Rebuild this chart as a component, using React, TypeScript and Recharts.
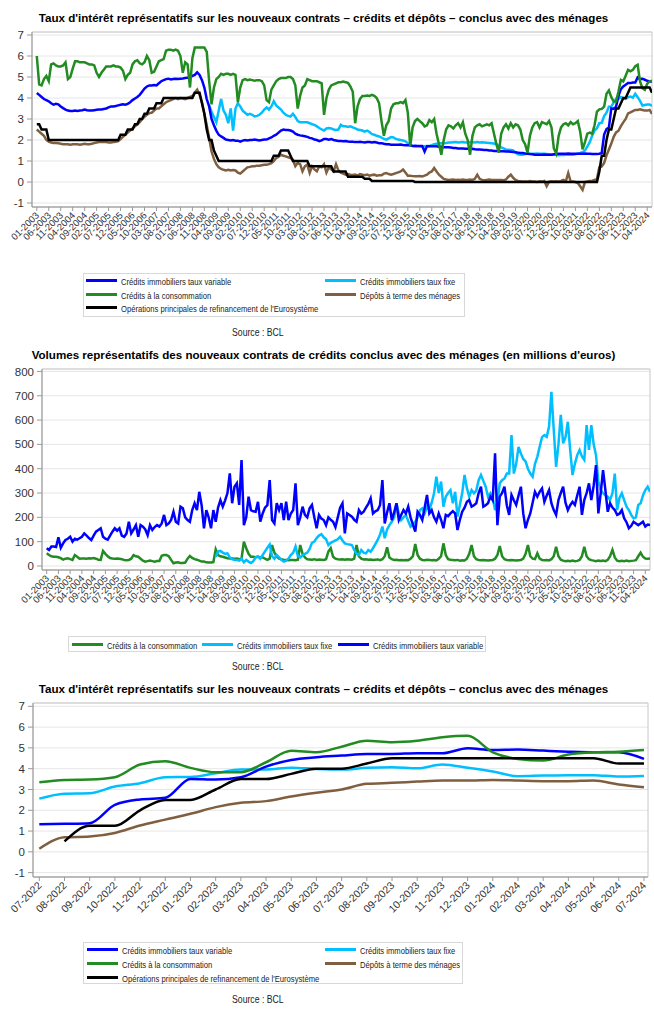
import React from "react";
import { LineChart, Line, XAxis, YAxis, CartesianGrid, ReferenceArea } from "recharts";

const FONT = "'Liberation Sans', Arial, sans-serif";

const BLUE = "#0000ff";
const CYAN = "#00bfff";
const GREEN = "#228b22";
const BROWN = "#7f5f3f";
const BLACK = "#000000";

// monthly, 01-2003 .. 06-2024
const longTickLabels = [
  "01-2003", "06-2003", "11-2003", "04-2004", "09-2004", "02-2005", "07-2005", "12-2005", "05-2006", "10-2006",
  "03-2007", "08-2007", "01-2008", "06-2008", "11-2008", "04-2009", "09-2009", "02-2010", "07-2010", "12-2010",
  "05-2011", "10-2011", "03-2012", "08-2012", "01-2013", "06-2013", "11-2013", "04-2014", "09-2014", "02-2015",
  "07-2015", "12-2015", "05-2016", "10-2016", "03-2017", "08-2017", "01-2018", "06-2018", "11-2018", "04-2019",
  "09-2019", "02-2020", "07-2020", "12-2020", "05-2021", "10-2021", "03-2022", "08-2022", "01-2023", "06-2023",
  "11-2023", "04-2024",
];

const rateVariable = [
  4.24, 4.15, 4.05, 3.95, 3.9, 3.84, 3.75, 3.68, 3.72, 3.7, 3.6, 3.52,
  3.45, 3.4, 3.38, 3.38, 3.4, 3.38, 3.4, 3.42, 3.45, 3.42, 3.4, 3.4,
  3.42, 3.44, 3.45, 3.45, 3.48, 3.5, 3.55, 3.6, 3.6, 3.62, 3.65, 3.68,
  3.7, 3.68, 3.72, 3.8, 3.9, 3.98, 4.05, 4.15, 4.3, 4.45, 4.55, 4.6,
  4.6, 4.62, 4.6, 4.7, 4.8, 4.85, 4.9, 4.92, 4.88, 4.9, 4.92, 4.9,
  4.92, 4.93, 4.95, 4.97, 4.98, 5.05, 5.1, 5.22, 5.1, 4.85, 4.5, 3.95,
  3.6, 3.0, 2.7, 2.45, 2.25, 2.17, 2.1, 2.02, 2.0, 1.98, 2.0, 1.97,
  1.97, 1.92, 1.97, 2.0, 1.98, 2.0, 2.0, 2.02, 2.0, 1.98, 2.0, 2.02,
  2.02, 2.08, 2.12, 2.2, 2.25, 2.35, 2.45, 2.5, 2.48, 2.48, 2.45, 2.4,
  2.3, 2.25, 2.22, 2.2, 2.18, 2.15, 2.1, 2.08, 2.02, 2.0, 1.95, 1.98,
  2.05, 2.05, 2.02, 2.05, 2.0, 1.98, 1.95, 1.95, 1.94, 1.95, 1.93, 1.92,
  1.92, 1.9, 1.9, 1.92, 1.9, 1.88, 1.9, 1.9, 1.88, 1.9, 1.88, 1.85,
  1.85, 1.82, 1.8, 1.8, 1.78, 1.78, 1.78, 1.77, 1.78, 1.76, 1.75, 1.75,
  1.75, 1.72, 1.73, 1.72, 1.72, 1.72, 1.45, 1.7, 1.7, 1.7, 1.7, 1.7,
  1.68, 1.68, 1.66, 1.65, 1.65, 1.64, 1.62, 1.62, 1.6, 1.6, 1.6, 1.58,
  1.58, 1.57, 1.58, 1.56, 1.55, 1.55, 1.54, 1.52, 1.52, 1.5, 1.5, 1.48,
  1.48, 1.47, 1.46, 1.46, 1.45, 1.45, 1.44, 1.43, 1.42, 1.4, 1.38, 1.38,
  1.36, 1.35, 1.33, 1.32, 1.3, 1.3, 1.3, 1.3, 1.31, 1.3, 1.3, 1.3,
  1.32, 1.33, 1.35, 1.35, 1.34, 1.35, 1.36, 1.35, 1.34, 1.35, 1.35, 1.34,
  1.35, 1.36, 1.35, 1.35, 1.33, 1.33, 1.33, 1.35, 1.38, 2.26, 2.52, 2.6,
  3.51, 3.48, 3.59, 4.1, 4.42, 4.55, 4.63, 4.71, 4.71, 4.74, 4.74, 4.98,
  4.9, 4.92, 4.87, 4.82, 4.79, 4.79,
];

const rateFixed = [
  null, null, null, null, null, null, null, null, null, null, null, null,
  null, null, null, null, null, null, null, null, null, null, null, null,
  null, null, null, null, null, null, null, null, null, null, null, null,
  null, null, null, null, null, null, null, null, null, null, null, null,
  null, null, null, null, null, null, null, null, null, null, null, null,
  null, null, null, null, null, null, null, null, null, null, null, null,
  3.65, 3.35, 3.1, 2.85, 3.4, 3.95, 3.4, 3.2, 2.8, 3.5, 2.45, 3.5,
  3.75, 3.6, 3.4, 3.3, 3.2, 3.25, 3.2, 3.12, 3.15, 3.2, 3.3, 3.45,
  3.55, 3.45, 3.6, 3.85, 3.65, 3.55, 3.45, 3.3, 3.2, 3.15, 3.12, 3.25,
  3.1, 2.9, 2.85, 2.84, 2.84, 2.84, 2.8, 2.75, 2.72, 2.65, 2.57, 2.5,
  2.45, 2.55, 2.57, 2.55, 2.5, 2.48, 2.5, 2.72, 2.65, 2.65, 2.62, 2.65,
  2.6, 2.55, 2.5, 2.48, 2.45, 2.4, 2.45, 2.38, 2.28, 2.25, 2.2, 2.17,
  2.12, 2.05, 2.02, 2.08, 2.14, 2.12, 2.05, 2.02, 2.0, 1.98, 1.94, 1.85,
  1.75, 1.72, 1.7, 1.7, 1.7, 1.68, 1.7, 1.72, 1.72, 1.75, 1.8, 1.82,
  1.83, 1.84, 1.85, 1.86, 1.88, 1.88, 1.89, 1.9, 1.88, 1.89, 1.9, 1.88,
  1.88, 1.9, 1.89, 1.88, 1.9, 1.88, 1.89, 1.88, 1.87, 1.86, 1.85, 1.83,
  1.8, 1.7, 1.65, 1.6, 1.55, 1.54, 1.52, 1.5, 1.4, 1.32, 1.3, 1.3,
  1.33, 1.35, 1.35, 1.34, 1.35, 1.36, 1.35, 1.35, 1.34, 1.33, 1.32, 1.3,
  1.3, 1.3, 1.28, 1.3, 1.29, 1.3, 1.3, 1.31, 1.3, 1.32, 1.35, 1.38,
  1.42, 1.5, 1.7, 1.9, 2.2, 2.45, 2.56, 2.8, 2.82, 3.14, 3.3, 3.59,
  3.6, 3.78, 3.96, 3.96, 4.05, 3.99, 3.96, 4.04, 4.07, 4.02, 4.2, 4.04,
  3.86, 3.64, 3.67, 3.69, 3.69, 3.62,
];

const rateConso = [
  6.0, 4.65, 4.6, 4.9, 5.05, 4.8, 5.6, 5.65, 5.55, 5.5, 5.5, 5.55,
  5.7, 4.9, 5.0, 5.4, 5.75, 5.75, 5.7, 5.7, 5.7, 5.65, 5.6, 5.6,
  5.55, 5.2, 5.0, 5.2, 5.35, 5.5, 5.5, 5.5, 5.55, 5.5, 5.5, 5.45,
  5.3, 4.9, 5.1, 5.2, 5.6, 5.75, 5.8, 5.65, 5.6, 5.7, 6.0, 5.8,
  5.2, 5.25, 5.5, 5.75, 5.8, 5.85, 6.25, 6.3, 6.3, 6.25, 6.3, 6.25,
  6.0, 5.2, 5.7, 5.6, 4.5, 5.9, 6.4, 6.4, 6.4, 6.4, 6.4, 6.2,
  4.8, 3.7, 4.5, 4.9, 5.0, 5.15, 5.1, 5.15, 5.15, 5.1, 5.15, 5.1,
  3.8, 4.5, 4.85, 4.9, 4.85, 4.88, 4.85, 4.82, 4.85, 4.85, 4.8, 4.6,
  3.9, 3.8, 4.4, 4.6, 4.8, 4.9, 4.95, 4.95, 4.95, 5.0, 5.0, 4.9,
  4.6, 3.5, 4.1, 4.5, 4.6, 4.9, 4.85, 4.8, 4.8, 4.8, 4.75, 4.7,
  3.2, 4.0, 4.4, 4.6, 4.65, 4.7, 4.75, 4.75, 4.78, 4.75, 4.72, 4.55,
  4.3, 2.8, 3.6, 3.95, 4.1, 4.1, 4.12, 4.1, 4.15, 4.1, 4.0, 3.75,
  2.9, 2.2, 2.7, 2.9, 3.5, 3.7, 3.75, 3.75, 3.8, 3.75, 3.9, 3.3,
  1.7, 2.6, 2.9, 3.0, 2.9, 2.8, 2.65, 2.7, 2.95, 2.85, 3.0, 2.3,
  1.8, 1.3, 2.0, 2.5, 2.7, 2.65, 2.55, 2.7, 2.8, 2.6, 2.85, 2.3,
  2.0, 1.3, 2.2, 2.6, 2.7, 2.75, 2.65, 2.7, 2.75, 2.7, 2.8, 2.3,
  1.8, 1.4, 2.3, 2.6, 2.75, 2.55, 2.8, 2.6, 2.75, 2.7, 2.5, 2.0,
  1.8, 1.4, 2.2, 2.6, 2.8, 2.85, 2.6, 2.85, 2.8, 2.75, 2.9, 2.6,
  1.6, 1.35, 2.2, 2.6, 2.75, 2.8, 2.7, 2.85, 2.75, 2.8, 2.9, 2.4,
  1.55, 1.9, 2.3, 2.35, 2.3, 2.7, 3.35, 3.46, 3.48, 3.59, 4.2, 4.36,
  4.04, 3.83, 3.83, 4.31, 4.86, 4.79, 5.06, 5.34, 5.27, 5.34, 5.51, 5.58,
  4.79, 4.47, 4.39, 4.68, 4.79, 4.82,
];

const rateDepots = [
  2.5, 2.4, 2.3, 2.2, 2.0, 1.92, 1.88, 1.86, 1.86, 1.85, 1.82, 1.8,
  1.8, 1.8, 1.78, 1.8, 1.8, 1.8, 1.78, 1.8, 1.82, 1.8, 1.8, 1.82,
  1.85, 1.88, 1.9, 1.9, 1.9, 1.9, 1.88, 1.88, 1.9, 1.92, 1.95, 2.05,
  2.15, 2.25, 2.35, 2.45, 2.55, 2.65, 2.75, 2.85, 3.0, 3.1, 3.2, 3.28,
  3.3, 3.4, 3.5, 3.5, 3.6, 3.7, 3.8, 3.85, 3.9, 3.95, 4.0, 3.95,
  4.0, 3.98, 3.95, 4.0, 4.05, 4.1, 4.25, 4.4, 4.15, 3.8, 3.25, 2.7,
  2.1, 1.45, 1.1, 0.85, 0.7, 0.62, 0.58, 0.55, 0.58, 0.55, 0.57, 0.55,
  0.45, 0.4, 0.5, 0.6, 0.7, 0.72, 0.75, 0.75, 0.78, 0.78, 0.8, 0.82,
  0.82, 0.85, 0.9, 1.0, 1.14, 1.2, 1.3, 1.25, 1.22, 1.18, 1.14, 1.06,
  0.75, 0.9, 0.85, 0.51, 0.75, 0.83, 0.43, 0.75, 0.6, 0.51, 0.75, 0.7,
  0.85, 0.45, 0.7, 0.6, 0.5, 0.85, 0.55, 0.45, 0.4, 0.35, 0.38, 0.35,
  0.33, 0.35, 0.3, 0.38, 0.35, 0.32, 0.35, 0.3, 0.33, 0.35, 0.3, 0.32,
  0.32, 0.4, 0.43, 0.38, 0.35, 0.38, 0.42, 0.46, 0.5, 0.59, 0.45, 0.3,
  0.3, 0.28, 0.27, 0.27, 0.28, 0.26, 0.3, 0.35, 0.45, 0.5, 0.67, 0.5,
  0.35, 0.25, 0.15, 0.12, 0.1, 0.11, 0.12, 0.1, 0.11, 0.1, 0.12, 0.1,
  0.1, 0.12, 0.1, 0.15, 0.35, 0.15, 0.1, 0.08, 0.1, 0.12, 0.1, 0.09,
  0.1, 0.09, 0.1, 0.08, 0.12, 0.25, 0.35, 0.2, 0.1, 0.05, 0.04, 0.03,
  0.03, 0.02, 0.05, 0.03, 0.02, 0.0, 0.03, 0.02, 0.05, -0.2, 0.02, 0.03,
  0.02, 0.03, 0.02, 0.05, 0.1, 0.03, 0.43, 0.03, 0.02, 0.0, -0.05, -0.2,
  -0.37, 0.0, 0.03, 0.05, 0.05, 0.1, 0.15, 0.7, 0.74, 0.91, 1.27, 1.55,
  1.83, 2.15, 2.36, 2.44, 2.66, 2.84, 3.0, 3.27, 3.32, 3.38, 3.43, 3.43,
  3.46, 3.43, 3.4, 3.4, 3.43, 3.24,
];

const rateBCE = [
  2.75, 2.75, 2.5, 2.5, 2.5, 2.0, 2.0, 2.0, 2.0, 2.0, 2.0, 2.0,
  2.0, 2.0, 2.0, 2.0, 2.0, 2.0, 2.0, 2.0, 2.0, 2.0, 2.0, 2.0,
  2.0, 2.0, 2.0, 2.0, 2.0, 2.0, 2.0, 2.0, 2.0, 2.0, 2.0, 2.25,
  2.25, 2.25, 2.5, 2.5, 2.5, 2.75, 2.75, 3.0, 3.0, 3.25, 3.25, 3.5,
  3.5, 3.5, 3.75, 3.75, 3.75, 4.0, 4.0, 4.0, 4.0, 4.0, 4.0, 4.0,
  4.0, 4.0, 4.0, 4.0, 4.0, 4.0, 4.25, 4.25, 4.25, 3.75, 3.25, 2.5,
  2.0, 2.0, 1.5, 1.25, 1.0, 1.0, 1.0, 1.0, 1.0, 1.0, 1.0, 1.0,
  1.0, 1.0, 1.0, 1.0, 1.0, 1.0, 1.0, 1.0, 1.0, 1.0, 1.0, 1.0,
  1.0, 1.0, 1.0, 1.25, 1.25, 1.25, 1.5, 1.5, 1.5, 1.5, 1.25, 1.0,
  1.0, 1.0, 1.0, 1.0, 1.0, 1.0, 0.75, 0.75, 0.75, 0.75, 0.75, 0.75,
  0.75, 0.75, 0.75, 0.75, 0.5, 0.5, 0.5, 0.5, 0.5, 0.5, 0.25, 0.25,
  0.25, 0.25, 0.25, 0.25, 0.25, 0.15, 0.15, 0.15, 0.05, 0.05, 0.05, 0.05,
  0.05, 0.05, 0.05, 0.05, 0.05, 0.05, 0.05, 0.05, 0.05, 0.05, 0.05, 0.05,
  0.05, 0.05, 0, 0, 0, 0, 0, 0, 0, 0, 0, 0,
  0, 0, 0, 0, 0, 0, 0, 0, 0, 0, 0, 0,
  0, 0, 0, 0, 0, 0, 0, 0, 0, 0, 0, 0,
  0, 0, 0, 0, 0, 0, 0, 0, 0, 0, 0, 0,
  0, 0, 0, 0, 0, 0, 0, 0, 0, 0, 0, 0,
  0, 0, 0, 0, 0, 0, 0, 0, 0, 0, 0, 0,
  0, 0, 0, 0, 0, 0, 0, 0.5, 1.25, 1.25, 2.0, 2.5,
  2.5, 3.0, 3.5, 3.5, 3.75, 4.0, 4.0, 4.25, 4.5, 4.5, 4.5, 4.5,
  4.5, 4.5, 4.5, 4.5, 4.5, 4.25,
];

// volumes in millions of euros, 01-2003 .. 06-2024
const volConso = [
  52, 45, 40, 38, 38, 36, 32, 26, 30, 32, 28, 25,
  45, 38, 30, 31, 31, 30, 32, 31, 33, 30, 26, 25,
  62, 50, 40, 33, 31, 30, 31, 30, 28, 25, 24, 25,
  30, 45, 40, 38, 30, 22, 18, 20, 22, 20, 18, 20,
  20, 42, 45, 45, 40, 25, 11, 14, 15, 12, 12, 14,
  30, 41, 33, 28, 26, 22, 18, 18, 15, 14, 14, 16,
  68, 45, 40, 38, 35, 32, 31, 31, 30, 31, 28, 30,
  100, 73, 50, 38, 38, 36, 38, 35, 36, 30, 25, 30,
  86, 55, 38, 30, 28, 25, 25, 24, 25, 25, 24, 26,
  86, 50, 35, 28, 27, 26, 28, 25, 27, 26, 25, 28,
  59, 73, 38, 30, 28, 27, 28, 26, 28, 27, 26, 30,
  86, 40, 30, 27, 28, 26, 27, 25, 26, 27, 24, 28,
  40, 77, 35, 28, 25, 26, 24, 25, 24, 25, 24, 30,
  40, 90, 45, 30, 25, 24, 26, 25, 24, 25, 23, 30,
  40, 93, 45, 28, 26, 25, 24, 25, 22, 24, 23, 30,
  50, 86, 40, 28, 25, 24, 25, 24, 23, 24, 25, 30,
  45, 82, 40, 28, 25, 24, 25, 24, 23, 24, 25, 30,
  50, 86, 40, 30, 28, 52, 30, 25, 24, 25, 23, 28,
  40, 79, 40, 26, 22, 20, 21, 20, 22, 20, 21, 25,
  40, 79, 40, 28, 24, 22, 20, 22, 21, 22, 20, 25,
  40, 66, 35, 22, 20, 21, 20, 22, 20, 21, 22, 24,
  40, 55, 38, 31, 30, 31,
];

const volFixe = [
  null, null, null, null, null, null, null, null, null, null, null, null,
  null, null, null, null, null, null, null, null, null, null, null, null,
  null, null, null, null, null, null, null, null, null, null, null, null,
  null, null, null, null, null, null, null, null, null, null, null, null,
  null, null, null, null, null, null, null, null, null, null, null, null,
  null, null, null, null, null, null, null, null, null, null, null, null,
  38, 60, 62, 55, 50, 52, 35, 28, 25, 25, 22, 30,
  15, 25, 18, 12, 20, 35, 40, 30, 45, 60, 75, 88,
  40, 30, 45, 35, 25, 18, 22, 30, 45, 55, 80, 40,
  35, 45, 50, 55, 70, 95, 100, 115, 125, 131, 118, 110,
  86, 95, 100, 105, 110, 120, 105, 93, 90, 88, 86, 66,
  50, 45, 66, 55, 52, 66, 59, 73, 90, 107, 130, 162,
  114, 150, 168, 182, 200, 258, 216, 189, 200, 210, 185, 162,
  170, 182, 200, 230, 237, 216, 244, 230, 260, 299, 367, 300,
  347, 244, 285, 300, 312, 258, 305, 203, 251, 300, 374, 320,
  285, 312, 299, 310, 353, 374, 350, 326, 285, 299, 280, 230,
  260, 340, 353, 360, 380, 380, 538, 380, 420, 490, 463, 440,
  430, 400, 380, 367, 420, 449, 490, 530, 538, 531, 573, 716,
  560, 408, 500, 621, 504, 530, 593, 477, 374, 420, 456, 477,
  450, 436, 579, 477, 579, 500, 456, 347, 312, 299, 290, 285,
  271, 300, 380, 230, 280, 299, 271, 244, 230, 210, 196, 200,
  251, 258, 290, 312, 326, 305,
];

const volVariable = [
  73, 66, 80, 80, 78, 118, 75, 93, 107, 112, 120, 100,
  112, 108, 114, 120, 134, 125, 115, 107, 125, 141, 148, 155,
  120, 112, 108, 125, 141, 155, 145, 155, 125, 120, 134, 182,
  134, 150, 168, 120, 168, 162, 150, 127, 168, 148, 160, 168,
  162, 175, 210, 168, 175, 189, 223, 182, 175, 244, 237, 200,
  189, 182, 230, 258, 230, 305, 250, 155, 230, 200, 155, 230,
  182, 240, 271, 244, 270, 300, 381, 258, 326, 340, 251, 436,
  168, 200, 285, 230, 225, 223, 264, 182, 216, 240, 250, 353,
  189, 175, 258, 230, 258, 189, 264, 189, 216, 230, 340, 168,
  200, 244, 210, 200, 237, 251, 200, 155, 210, 195, 189, 168,
  200, 190, 182, 160, 200, 240, 258, 134, 216, 210, 203, 190,
  182, 230, 215, 223, 240, 255, 278, 216, 225, 230, 250, 353,
  175, 220, 258, 189, 220, 258, 189, 210, 230, 216, 244, 200,
  170, 141, 223, 210, 189, 240, 292, 216, 230, 200, 182, 216,
  190, 155, 210, 205, 216, 225, 216, 148, 190, 223, 240, 264,
  271, 244, 250, 258, 300, 326, 244, 250, 258, 285, 270, 463,
  168, 285, 300, 326, 250, 210, 292, 270, 251, 290, 326, 216,
  155, 190, 216, 260, 305, 285, 305, 319, 264, 290, 312, 258,
  230, 210, 271, 300, 326, 260, 230, 250, 264, 251, 290, 326,
  210, 271, 300, 340, 271, 330, 415, 216, 300, 394, 312, 223,
  258, 240, 230, 210, 215, 230, 196, 180, 155, 165, 182, 175,
  168, 175, 182, 162, 170, 168,
];

// zoom 07-2022 .. 07-2024
const shortMonths = [
  "07-2022", "08-2022", "09-2022", "10-2022", "11-2022", "12-2022", "01-2023", "02-2023", "03-2023",
  "04-2023", "05-2023", "06-2023", "07-2023", "08-2023", "09-2023", "10-2023", "11-2023", "12-2023",
  "01-2024", "02-2024", "03-2024", "04-2024", "05-2024", "06-2024", "07-2024",
];
const shortVariable = [1.33, 1.35, 1.38, 2.26, 2.52, 2.6, 3.51, 3.48, 3.59, 4.1, 4.42, 4.55, 4.63, 4.71, 4.71, 4.74, 4.74, 4.98, 4.9, 4.92, 4.87, 4.82, 4.79, 4.79, 4.47];
const shortFixed = [2.56, 2.8, 2.82, 3.14, 3.3, 3.59, 3.6, 3.78, 3.96, 3.96, 4.05, 3.99, 3.96, 4.04, 4.07, 4.02, 4.2, 4.04, 3.86, 3.64, 3.67, 3.69, 3.69, 3.62, 3.65];
const shortConso = [3.35, 3.46, 3.48, 3.59, 4.2, 4.36, 4.04, 3.83, 3.83, 4.31, 4.86, 4.79, 5.06, 5.34, 5.27, 5.34, 5.51, 5.58, 4.79, 4.47, 4.39, 4.68, 4.79, 4.82, 4.9];
const shortDepots = [0.15, 0.7, 0.74, 0.91, 1.27, 1.55, 1.83, 2.15, 2.36, 2.44, 2.66, 2.84, 3.0, 3.27, 3.32, 3.38, 3.43, 3.43, 3.46, 3.43, 3.4, 3.4, 3.43, 3.24, 3.11];
const shortBCE = [null, 0.5, 1.25, 1.25, 2.0, 2.5, 2.5, 3.0, 3.5, 3.5, 3.75, 4.0, 4.0, 4.25, 4.5, 4.5, 4.5, 4.5, 4.5, 4.5, 4.5, 4.5, 4.5, 4.25, 4.25];

const rateTicks = [-1, 0, 1, 2, 3, 4, 5, 6, 7];
const volTicks = [0, 100, 200, 300, 400, 500, 600, 700, 800];

const TITLE_RATES = "Taux d'intérêt représentatifs sur les nouveaux contrats – crédits et dépôts – conclus avec des ménages";
const TITLE_VOL = "Volumes représentatifs des nouveaux contrats de crédits conclus avec des ménages (en millions d'euros)";

const rateData = rateVariable.map((v, i) => ({
  i,
  variable: v,
  fixe: rateFixed[i],
  conso: rateConso[i],
  depots: rateDepots[i],
  bce: rateBCE[i],
}));
const volData = volVariable.map((v, i) => ({ i, variable: v, fixe: volFixe[i], conso: volConso[i] }));
const shortData = shortMonths.map((m, i) => ({
  i,
  variable: shortVariable[i],
  fixe: shortFixed[i],
  conso: shortConso[i],
  depots: shortDepots[i],
  bce: shortBCE[i],
}));

const longTickIdx = longTickLabels.map((_, k) => k * 5);
const shortTickIdx = shortMonths.map((_, k) => k);

function RotTick(props: any) {
  const { x, y, payload, labels, step, size } = props;
  const label = labels[Math.round(payload.value / step)];
  const tx = x + 3;
  const ty = y + 5;
  return (
    <text
      x={tx}
      y={ty}
      transform={`rotate(-45, ${tx}, ${ty})`}
      textAnchor="end"
      fontSize={size}
      fontFamily={FONT}
      fill="#333"
    >
      {label}
    </text>
  );
}

const yTick = { fontSize: 11.5, fill: "#333", fontFamily: FONT };

function Title({ top, text }: { top: number; text: string }) {
  return (
    <div
      style={{
        position: "absolute",
        left: 0,
        top,
        width: 647,
        textAlign: "center",
        fontFamily: FONT,
        fontWeight: "bold",
        fontSize: 11.6,
        whiteSpace: "nowrap",
        color: "#000",
      }}
    >
      {text}
    </div>
  );
}

// legend text is condensed in the original
function NarrowText({ children, size }: { children: React.ReactNode; size: number }) {
  return (
    <span
      style={{
        display: "inline-block",
        fontFamily: FONT,
        fontSize: size,
        color: "#222",
        whiteSpace: "nowrap",
        transform: "scaleX(0.82)",
        transformOrigin: "left center",
      }}
    >
      {children}
    </span>
  );
}

function LegendItem({ color, label, left, top }: { color: string; label: string; left: number; top: number }) {
  return (
    <div style={{ position: "absolute", left, top, height: 12, display: "flex", alignItems: "center" }}>
      <div style={{ width: 31, height: 3, background: color }} />
      <div style={{ marginLeft: 4 }}>
        <NarrowText size={9.3}>{label}</NarrowText>
      </div>
    </div>
  );
}

function Box({ left, top, width, height }: { left: number; top: number; width: number; height: number }) {
  return (
    <div
      style={{
        position: "absolute",
        left,
        top,
        width,
        height,
        border: "1px solid #d8d8d8",
        boxSizing: "border-box",
      }}
    />
  );
}

function Source({ top }: { top: number }) {
  return (
    <div style={{ position: "absolute", left: 232, top }}>
      <NarrowText size={10.6}>Source : BCL</NarrowText>
    </div>
  );
}

export default function App() {
  return (
    <div style={{ position: "absolute", left: 0, top: 0, width: 654, height: 1009, background: "#fff" }}>
      {/* chart 1 */}
      <Title top={11} text={TITLE_RATES} />
      <div style={{ position: "absolute", left: 0, top: 0 }}>
        <LineChart width={654} height={260} data={rateData} margin={{ top: 32, right: 2, left: 0, bottom: 0 }}>
          <CartesianGrid vertical={false} stroke="#e6e6e6" />
          <XAxis
            type="number"
            dataKey="i"
            domain={[-2, 257]}
            ticks={longTickIdx}
            interval={0}
            allowDataOverflow
            height={53}
            tickSize={4}
            tickMargin={0}
            stroke="#999"
            tick={(p: any) => <RotTick {...p} labels={longTickLabels} step={5} size={9.5} />}
          />
          <YAxis
            type="number"
            domain={[-1.19, 7.143]}
            ticks={rateTicks}
            interval={0}
            allowDataOverflow
            width={32}
            tickSize={5}
            tickMargin={3}
            stroke="#999"
            tick={yTick}
          />
          <ReferenceArea x1={-2} x2={257} y1={-1.19} y2={7.143} fill="none" stroke="#c8c8c8" />
          <Line dataKey="depots" stroke={BROWN} strokeWidth={2.5} dot={false} isAnimationActive={false} />
          <Line dataKey="fixe" stroke={CYAN} strokeWidth={2.5} dot={false} isAnimationActive={false} />
          <Line dataKey="variable" stroke={BLUE} strokeWidth={2.5} dot={false} isAnimationActive={false} />
          <Line dataKey="conso" stroke={GREEN} strokeWidth={2.5} dot={false} isAnimationActive={false} />
          <Line dataKey="bce" stroke={BLACK} strokeWidth={2.5} dot={false} isAnimationActive={false} />
        </LineChart>
      </div>
      <Box left={83} top={273} width={382} height={44} />
      <LegendItem color={BLUE} label="Crédits immobiliers taux variable" left={86} top={274} />
      <LegendItem color={CYAN} label="Crédits immobiliers taux fixe" left={325} top={274} />
      <LegendItem color={GREEN} label="Crédits à la consommation" left={86} top={288} />
      <LegendItem color={BROWN} label="Dépôts à terme des ménages" left={325} top={288} />
      <LegendItem color={BLACK} label="Opérations principales de refinancement de l'Eurosystème" left={86} top={301} />
      <Source top={322} />

      {/* chart 2 */}
      <Title top={348} text={TITLE_VOL} />
      <div style={{ position: "absolute", left: 0, top: 340 }}>
        <LineChart width={654} height={290} data={volData} margin={{ top: 29, right: 4, left: 0, bottom: 0 }}>
          <CartesianGrid vertical={false} stroke="#e6e6e6" />
          <XAxis
            type="number"
            dataKey="i"
            domain={[-2, 257]}
            ticks={longTickIdx}
            interval={0}
            allowDataOverflow
            height={60}
            tickSize={4}
            tickMargin={0}
            stroke="#999"
            tick={(p: any) => <RotTick {...p} labels={longTickLabels} step={5} size={9.5} />}
          />
          <YAxis
            type="number"
            domain={[-16.5, 810]}
            ticks={volTicks}
            interval={0}
            allowDataOverflow
            width={42}
            tickSize={5}
            tickMargin={3}
            stroke="#999"
            tick={yTick}
          />
          <ReferenceArea x1={-2} x2={257} y1={-16.5} y2={810} fill="none" stroke="#c8c8c8" />
          <Line dataKey="conso" stroke={GREEN} strokeWidth={2.5} dot={false} isAnimationActive={false} />
          <Line dataKey="fixe" stroke={CYAN} strokeWidth={2.5} dot={false} isAnimationActive={false} />
          <Line dataKey="variable" stroke={BLUE} strokeWidth={2.5} dot={false} isAnimationActive={false} />
        </LineChart>
      </div>
      <Box left={68} top={636} width={418} height={16} />
      <LegendItem color={GREEN} label="Crédits à la consommation" left={72} top={638} />
      <LegendItem color={CYAN} label="Crédits immobiliers taux fixe" left={202} top={638} />
      <LegendItem color={BLUE} label="Crédits immobiliers taux variable" left={338} top={638} />
      <Source top={656} />

      {/* chart 3 */}
      <Title top={682} text={TITLE_RATES} />
      <div style={{ position: "absolute", left: 0, top: 680 }}>
        <LineChart width={654} height={252} data={shortData} margin={{ top: 23, right: 6, left: 0, bottom: 0 }}>
          <CartesianGrid vertical={false} stroke="#e6e6e6" />
          <XAxis
            type="number"
            dataKey="i"
            domain={[-0.25, 24.16]}
            ticks={shortTickIdx}
            interval={0}
            allowDataOverflow
            height={55}
            tickSize={4}
            tickMargin={0}
            stroke="#999"
            tick={(p: any) => <RotTick {...p} labels={shortMonths} step={1} size={10.5} />}
          />
          <YAxis
            type="number"
            domain={[-1.21, 7.16]}
            ticks={rateTicks}
            interval={0}
            allowDataOverflow
            width={33}
            tickSize={5}
            tickMargin={3}
            stroke="#999"
            tick={yTick}
          />
          <ReferenceArea x1={-0.25} x2={24.16} y1={-1.21} y2={7.16} fill="none" stroke="#c8c8c8" />
          <Line type="monotone" dataKey="depots" stroke={BROWN} strokeWidth={2.5} dot={false} isAnimationActive={false} />
          <Line type="monotone" dataKey="fixe" stroke={CYAN} strokeWidth={2.5} dot={false} isAnimationActive={false} />
          <Line type="monotone" dataKey="variable" stroke={BLUE} strokeWidth={2.5} dot={false} isAnimationActive={false} />
          <Line type="monotone" dataKey="conso" stroke={GREEN} strokeWidth={2.5} dot={false} isAnimationActive={false} />
          <Line type="monotone" dataKey="bce" stroke={BLACK} strokeWidth={2.5} dot={false} isAnimationActive={false} />
        </LineChart>
      </div>
      <Box left={83} top={942} width={380} height={42} />
      <LegendItem color={BLUE} label="Crédits immobiliers taux variable" left={87} top={943} />
      <LegendItem color={CYAN} label="Crédits immobiliers taux fixe" left={325} top={943} />
      <LegendItem color={GREEN} label="Crédits à la consommation" left={87} top={957} />
      <LegendItem color={BROWN} label="Dépôts à terme des ménages" left={325} top={957} />
      <LegendItem color={BLACK} label="Opérations principales de refinancement de l'Eurosystème" left={87} top={971} />
      <Source top={989} />
    </div>
  );
}
